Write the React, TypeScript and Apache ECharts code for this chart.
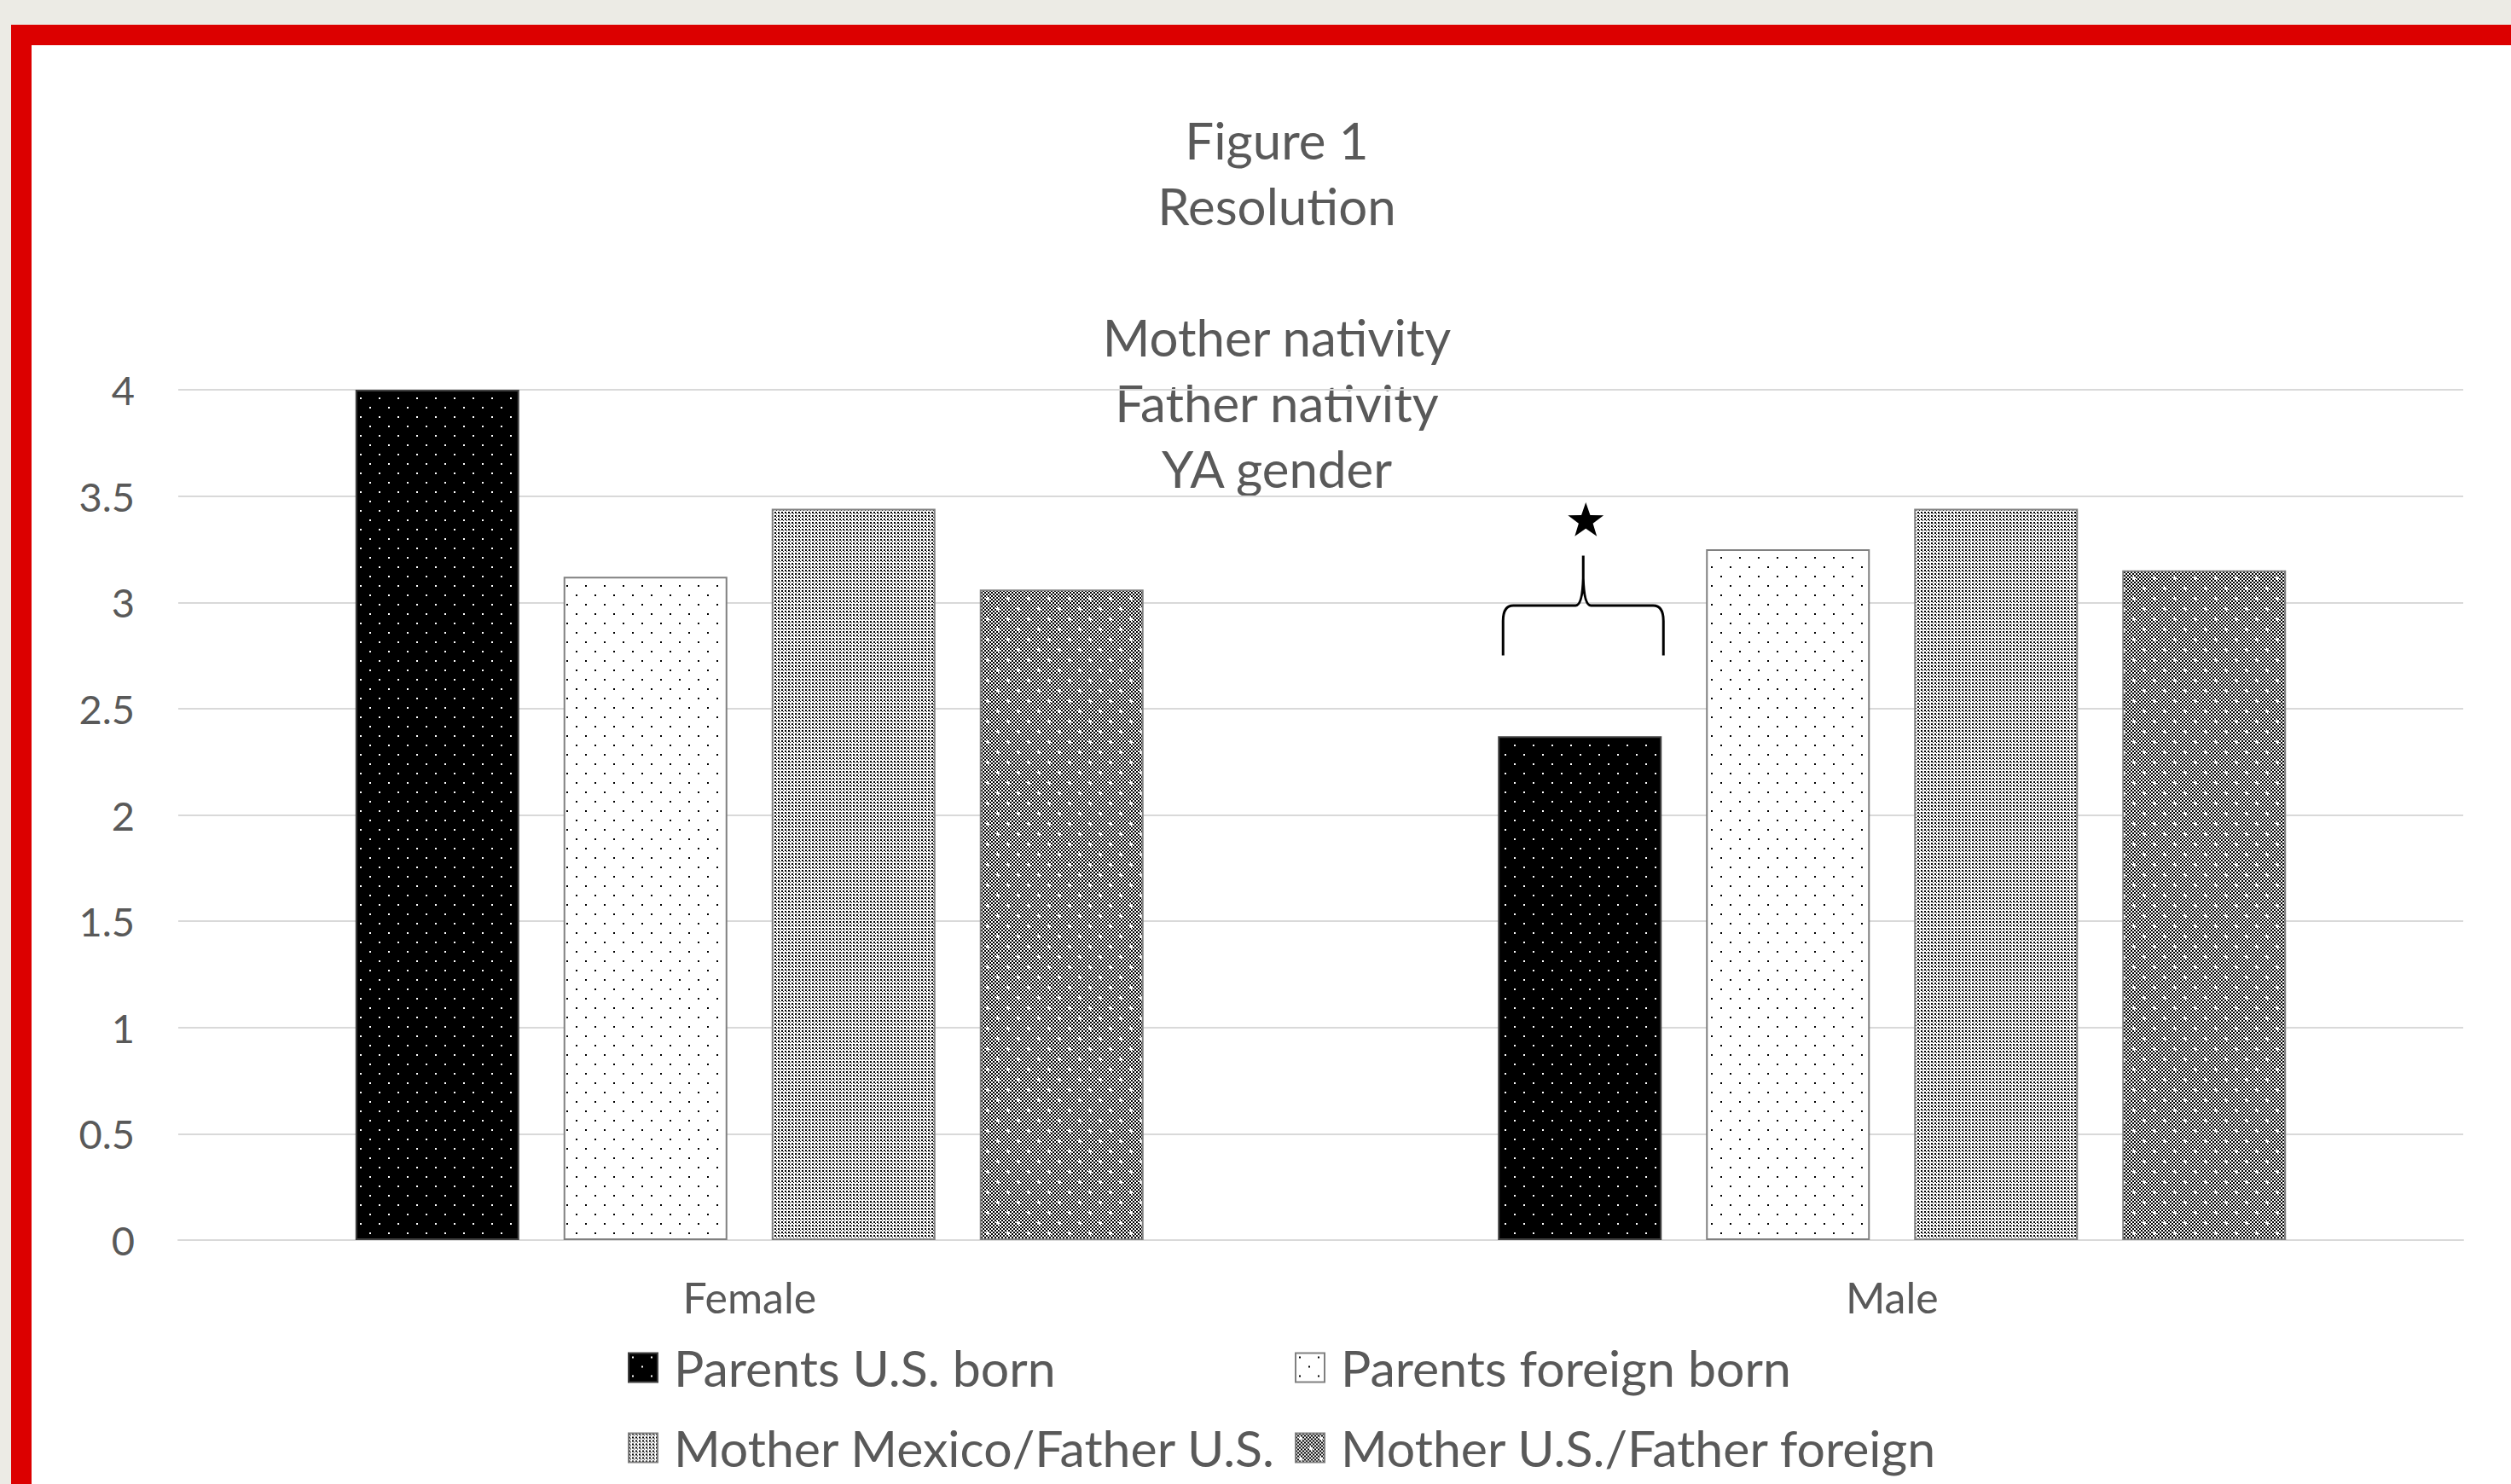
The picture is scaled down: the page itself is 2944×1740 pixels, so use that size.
import React, { useEffect, useRef } from 'react';
import * as echarts from 'echarts';

const categories = ['Female', 'Male'];
const seriesNames = [
  'Parents U.S. born',
  'Parents foreign born',
  'Mother Mexico/Father U.S.',
  'Mother U.S./Father foreign',
];
const parentsUSBorn = [4.0, 2.37];
const parentsForeignBorn = [3.12, 3.25];
const motherMexicoFatherUS = [3.44, 3.44];
const motherUSFatherForeign = [3.06, 3.15];
const yMin = 0;
const yMax = 4;
const yInterval = 0.5;
const titleLines = ['Figure 1', 'Resolution', '', 'Mother nativity', 'Father nativity', 'YA gender'];
// significance brace over Male / Parents U.S. born: [category index, brace bottom, brace bar, brace tip, star]
const braceAnnotation = [[1, 2.75, 2.985, 3.22, 3.39]];

const FONT = 'Lato';
const GRAY = '#595959';

function tile(w: number, h: number, bg: string, draw: (ctx: CanvasRenderingContext2D) => void) {
  const c = document.createElement('canvas');
  c.width = w;
  c.height = h;
  const ctx = c.getContext('2d')!;
  ctx.fillStyle = bg;
  ctx.fillRect(0, 0, w, h);
  draw(ctx);
  return c;
}

function makePatterns() {
  const p1 = tile(22, 22, '#000', (ctx) => {
    ctx.fillStyle = '#fff';
    ctx.fillRect(4, 4, 2, 2);
    ctx.fillRect(15, 15, 2, 2);
  });
  const p2 = tile(22, 22, '#fff', (ctx) => {
    ctx.fillStyle = '#000';
    ctx.fillRect(4, 4, 2, 2);
    ctx.fillRect(15, 15, 2, 2);
  });
  const p3 = tile(4, 4, '#fff', (ctx) => {
    ctx.fillStyle = '#000';
    ctx.fillRect(0, 0, 2, 2);
    ctx.fillRect(2, 2, 1, 1);
  });
  const p4 = tile(24, 24, '#fff', (ctx) => {
    ctx.fillStyle = '#000';
    for (let i = 0; i < 12; i++) {
      for (let j = 0; j < 12; j++) {
        if ((i + j) % 2 === 0) ctx.fillRect(i * 2, j * 2, 2, 2);
      }
    }
    ctx.fillStyle = '#fff';
    [[6, 6], [18, 18]].forEach(([x, y]) => {
      ctx.fillRect(x - 1, y - 2, 2, 4);
      ctx.fillRect(x - 2, y - 1, 4, 2);
    });
  });
  return [p1, p2, p3, p4].map((image) => ({ image, repeat: 'repeat' }));
}

export default function App() {
  const ref = useRef<HTMLDivElement>(null);

  useEffect(() => {
    if (!ref.current) return;
    const chart = echarts.init(ref.current, null, { renderer: 'svg' });
    const patterns = makePatterns();
    const values = [parentsUSBorn, parentsForeignBorn, motherMexicoFatherUS, motherUSFatherForeign];
    const barWidth = 192;
    const barGapPx = 52;
    const braceOffset = -1.5 * (barWidth + barGapPx) + 4;

    const barSeries = seriesNames.map((name, i) => ({
      type: 'bar',
      name,
      data: values[i],
      barWidth,
      barGap: `${(barGapPx / barWidth) * 100}%`,
      itemStyle: {
        color: patterns[i],
        borderColor: i === 0 ? '#404040' : '#808080',
        borderWidth: 2,
      },
      emphasis: { disabled: true },
    }));

    const legendPos = [
      { left: 736, top: 1574 },
      { left: 1518, top: 1574 },
      { left: 736, top: 1668 },
      { left: 1518, top: 1668 },
    ];

    chart.setOption({
      animation: false,
      backgroundColor: 'transparent',
      textStyle: { fontFamily: FONT },
      grid: { left: 209, right: 56, top: 457, bottom: 286, containLabel: false },
      xAxis: {
        type: 'category',
        data: categories,
        axisLine: { show: true, lineStyle: { color: '#D9D9D9', width: 2 } },
        axisTick: { show: false },
        axisLabel: { color: GRAY, fontSize: 50, fontFamily: FONT, margin: 42 },
      },
      yAxis: {
        type: 'value',
        min: yMin,
        max: yMax,
        interval: yInterval,
        axisLine: { show: false },
        axisTick: { show: false },
        splitLine: { lineStyle: { color: '#D9D9D9', width: 2 } },
        axisLabel: { color: GRAY, fontSize: 47, fontFamily: FONT, margin: 51 },
      },
      legend: legendPos.map((p, i) => ({
        data: [seriesNames[i]],
        left: p.left,
        top: p.top,
        padding: 0,
        itemWidth: 34,
        itemHeight: 34,
        icon: 'rect',
        selectedMode: false,
        textStyle: { color: GRAY, fontSize: 59, fontFamily: FONT, padding: [0, 0, 0, 14] },
      })),
      graphic: [
        {
          type: 'text',
          x: 1497,
          y: 125,
          style: {
            text: titleLines.join('\n'),
            fontSize: 60,
            lineHeight: 77,
            fontFamily: FONT,
            fill: GRAY,
            align: 'center',
            verticalAlign: 'top',
          },
        },
      ],
      series: [
        ...barSeries,
        {
          type: 'custom',
          silent: true,
          z: 10,
          data: braceAnnotation,
          encode: { x: 0, y: 1 },
          renderItem: (params: any, api: any) => {
            const cat = api.value(0);
            const base = api.coord([cat, api.value(1)]);
            const cx = base[0] + braceOffset;
            const yb = base[1];
            const yh = api.coord([cat, api.value(2)])[1];
            const yt = api.coord([cat, api.value(3)])[1];
            const ys = api.coord([cat, api.value(4)])[1];
            const hw = 94;
            const L = cx - hw;
            const R = cx + hw;
            const d =
              `M ${L} ${yb} L ${L} ${yh + 18} Q ${L} ${yh} ${L + 12} ${yh} L ${cx - 9} ${yh} ` +
              `Q ${cx - 1} ${yh} ${cx} ${yh - 32} L ${cx} ${yt} ` +
              `M ${R} ${yb} L ${R} ${yh + 18} Q ${R} ${yh} ${R - 12} ${yh} L ${cx + 9} ${yh} ` +
              `Q ${cx + 1} ${yh} ${cx} ${yh - 32}`;
            const Ro = 22;
            const Ri = Ro * 0.4;
            const sx = cx + 3;
            const sy = ys + 2;
            const pts: number[][] = [];
            for (let k = 0; k < 10; k++) {
              const r = k % 2 === 0 ? Ro : Ri;
              const a = -Math.PI / 2 + (k * Math.PI) / 5;
              pts.push([sx + r * Math.cos(a), sy + r * Math.sin(a)]);
            }
            return {
              type: 'group',
              children: [
                {
                  type: 'path',
                  shape: { pathData: d },
                  style: { stroke: '#000', fill: 'none', lineWidth: 3 },
                },
                { type: 'polygon', shape: { points: pts }, style: { fill: '#000' } },
              ],
            };
          },
        },
      ],
    });

    return () => chart.dispose();
  }, []);

  return (
    <div style={{ position: 'fixed', left: 0, top: 0, width: 2944, height: 1740, background: '#ECEBE5', overflow: 'hidden' }}>
      <div style={{ position: 'absolute', left: 13, top: 29, right: 0, bottom: 0, background: '#DC0000' }} />
      <div style={{ position: 'absolute', left: 37, top: 53, right: 0, bottom: 0, background: '#FFFFFF' }} />
      <div ref={ref} style={{ position: 'absolute', left: 0, top: 0, width: 2944, height: 1740 }} />
    </div>
  );
}
